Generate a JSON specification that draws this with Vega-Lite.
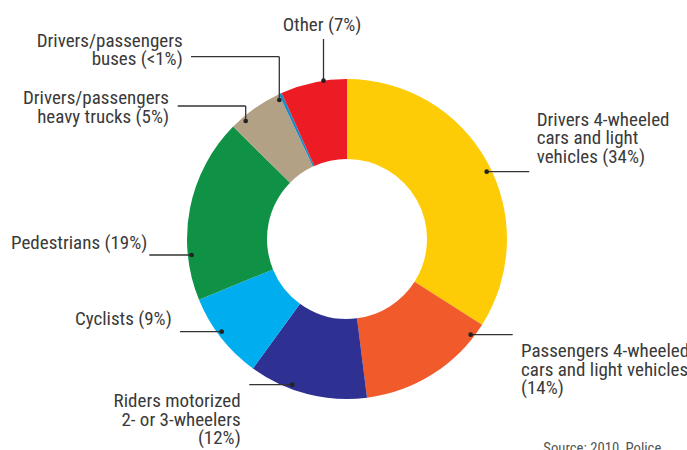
{
  "$schema": "https://vega.github.io/schema/vega-lite/v6.json",
  "autosize": "none",
  "width": 687,
  "height": 450,
  "padding": {"left": 3.5, "top": 14, "right": 0, "bottom": 0},
  "background": "white",
  "config": {"view": {"stroke": null}},
  "datasets": {
    "slices": [
      {"category": "Drivers 4-wheeled cars and light vehicles", "share": 34, "rank": 1},
      {"category": "Passengers 4-wheeled cars and light vehicles", "share": 14, "rank": 2},
      {"category": "Riders motorized 2- or 3-wheelers", "share": 12, "rank": 3},
      {"category": "Cyclists", "share": 8.8, "rank": 4},
      {"category": "Pedestrians", "share": 18.6, "rank": 5},
      {"category": "Drivers/passengers heavy trucks", "share": 5.6, "rank": 6},
      {"category": "Drivers/passengers buses", "share": 0.3, "rank": 7},
      {"category": "Other", "share": 6.7, "rank": 8}
    ],
    "leaders": [
      {"category": "Other", "x": -23.5, "y": 158.3, "x2": -23.5, "y2": 200},
      {"category": "Drivers/passengers buses", "x": -67.7, "y": 139, "x2": -67.7, "y2": 182.3},
      {"category": "Drivers/passengers buses", "x": -67.7, "y": 182.3, "x2": -156, "y2": 182.3},
      {"category": "Drivers/passengers heavy trucks", "x": -101.3, "y": 118, "x2": -101.3, "y2": 133},
      {"category": "Drivers/passengers heavy trucks", "x": -101.3, "y": 133, "x2": -169.3, "y2": 133},
      {"category": "Drivers 4-wheeled cars and light vehicles", "x": 139.7, "y": 67.3, "x2": 182.3, "y2": 67.3},
      {"category": "Passengers 4-wheeled cars and light vehicles", "x": 123.7, "y": -95.7, "x2": 165.7, "y2": -95.7},
      {"category": "Pedestrians", "x": -155.3, "y": -16, "x2": -197.7, "y2": -16},
      {"category": "Cyclists", "x": -125.3, "y": -92.7, "x2": -167, "y2": -92.7},
      {"category": "Riders motorized 2- or 3-wheelers", "x": -54.7, "y": -145.7, "x2": -97.7, "y2": -145.7}
    ],
    "anchors": [
      {"category": "Other", "x": -23.5, "y": 158.3},
      {"category": "Drivers/passengers buses", "x": -67.7, "y": 139},
      {"category": "Drivers/passengers heavy trucks", "x": -101.3, "y": 118},
      {"category": "Drivers 4-wheeled cars and light vehicles", "x": 139.7, "y": 67.3},
      {"category": "Passengers 4-wheeled cars and light vehicles", "x": 123.7, "y": -95.7},
      {"category": "Pedestrians", "x": -155.3, "y": -16},
      {"category": "Cyclists", "x": -125.3, "y": -92.7},
      {"category": "Riders motorized 2- or 3-wheelers", "x": -54.7, "y": -145.7}
    ],
    "labelsLeft": [
      {"label": "Drivers 4-wheeled\ncars and light\nvehicles (34%)", "x": 189.7, "y": 113.3},
      {"label": "Passengers 4-wheeled\ncars and light vehicles\n(14%)", "x": 174, "y": -118.3},
      {"label": "Pedestrians (19%)", "x": -336, "y": -10.3}
    ],
    "labelsRight": [
      {"label": "Drivers/passengers\nbuses (<1%)", "x": -164.3, "y": 192.3},
      {"label": "Drivers/passengers\nheavy trucks (5%)", "x": -178, "y": 134.7},
      {"label": "Cyclists (9%)", "x": -175.3, "y": -86},
      {"label": "Riders motorized\n2- or 3-wheelers\n(12%)", "x": -106.3, "y": -168.3}
    ],
    "labelsCenter": [
      {"label": "Other (7%)", "x": -25, "y": 208.5}
    ],
    "source": [
      {"label": "Source: 2010, Police", "x": 196.3, "y": -213.5}
    ]
  },
  "layer": [
    {
      "data": {"name": "slices"},
      "mark": {"type": "arc", "innerRadius": 80, "outerRadius": 160},
      "encoding": {
        "theta": {"field": "share", "type": "quantitative", "stack": true},
        "order": {"field": "rank", "type": "quantitative"},
        "color": {
          "field": "category",
          "type": "nominal",
          "legend": null,
          "scale": {
            "domain": [
              "Drivers 4-wheeled cars and light vehicles",
              "Passengers 4-wheeled cars and light vehicles",
              "Riders motorized 2- or 3-wheelers",
              "Cyclists",
              "Pedestrians",
              "Drivers/passengers heavy trucks",
              "Drivers/passengers buses",
              "Other"
            ],
            "range": ["#FECC07", "#F15A2B", "#2E3192", "#00AEEF", "#0F9246", "#B3A186", "#1A8BC6", "#ED1C24"]
          }
        }
      }
    },
    {
      "data": {"name": "leaders"},
      "mark": {"type": "rule", "color": "#333333", "strokeWidth": 1.3},
      "encoding": {
        "x": {"field": "x", "type": "quantitative", "scale": {"domain": [-343.5, 343.5], "nice": false, "zero": false}, "axis": null},
        "y": {"field": "y", "type": "quantitative", "scale": {"domain": [-225, 225], "nice": false, "zero": false}, "axis": null},
        "x2": {"field": "x2"},
        "y2": {"field": "y2"}
      }
    },
    {
      "data": {"name": "anchors"},
      "mark": {"type": "point", "filled": true, "color": "#222222", "size": 22, "opacity": 1},
      "encoding": {
        "x": {"field": "x", "type": "quantitative"},
        "y": {"field": "y", "type": "quantitative"}
      }
    },
    {
      "data": {"name": "labelsLeft"},
      "mark": {"type": "text", "align": "left", "baseline": "alphabetic", "lineBreak": "\n", "lineHeight": 18.6, "font": "'Roboto Condensed'", "fontSize": 19, "color": "#3a3a3a"},
      "encoding": {
        "x": {"field": "x", "type": "quantitative"},
        "y": {"field": "y", "type": "quantitative"},
        "text": {"field": "label"}
      }
    },
    {
      "data": {"name": "labelsRight"},
      "mark": {"type": "text", "align": "right", "baseline": "alphabetic", "lineBreak": "\n", "lineHeight": 18.6, "font": "'Roboto Condensed'", "fontSize": 19, "color": "#3a3a3a"},
      "encoding": {
        "x": {"field": "x", "type": "quantitative"},
        "y": {"field": "y", "type": "quantitative"},
        "text": {"field": "label"}
      }
    },
    {
      "data": {"name": "labelsCenter"},
      "mark": {"type": "text", "align": "center", "baseline": "alphabetic", "font": "'Roboto Condensed'", "fontSize": 19, "color": "#3a3a3a"},
      "encoding": {
        "x": {"field": "x", "type": "quantitative"},
        "y": {"field": "y", "type": "quantitative"},
        "text": {"field": "label"}
      }
    },
    {
      "data": {"name": "source"},
      "mark": {"type": "text", "align": "left", "baseline": "alphabetic", "font": "'Roboto Condensed'", "fontSize": 14.7, "color": "#555555"},
      "encoding": {
        "x": {"field": "x", "type": "quantitative"},
        "y": {"field": "y", "type": "quantitative"},
        "text": {"field": "label"}
      }
    }
  ]
}
